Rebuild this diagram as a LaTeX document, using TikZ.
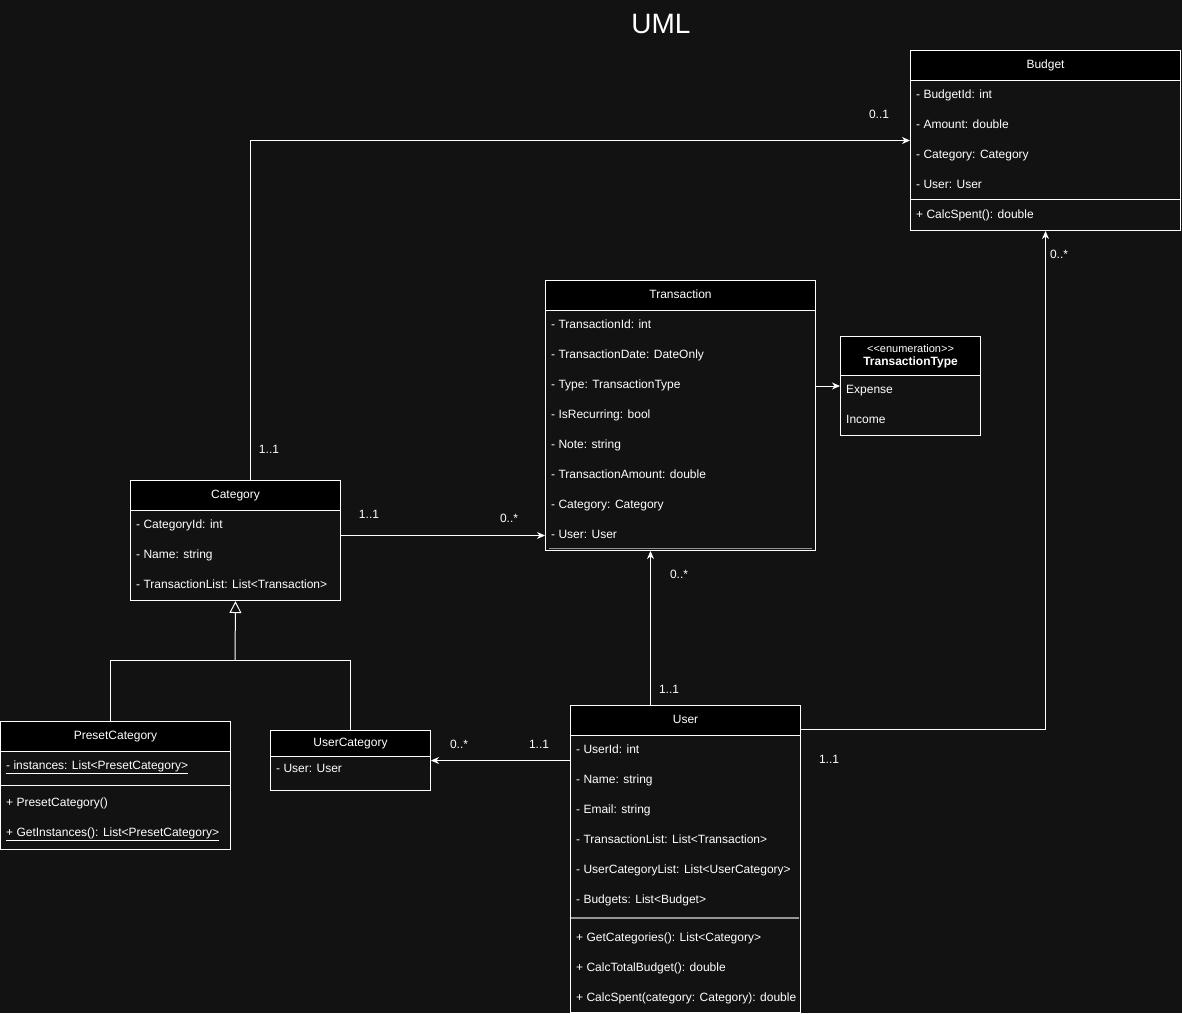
\documentclass[tikz,border=0pt]{standalone}
\usepackage{fontspec}
\setmainfont{Liberation Sans}
\usetikzlibrary{arrows.meta}
\definecolor{bg}{RGB}{18,18,18}
\definecolor{sepgray}{RGB}{150,150,150}
\begin{document}
\begin{tikzpicture}[x=1pt,y=-1pt,
  every node/.style={text=white,font=\fontsize{12}{14}\selectfont},
  box/.style={draw=white,line width=1pt,fill=bg,anchor=north west,inner sep=0pt},
  hdr/.style={draw=white,line width=1pt,fill=black,anchor=north west,inner sep=0pt},
  attr/.style={anchor=west,inner sep=0pt,text height=8.6pt,text depth=2.6pt},
  mult/.style={inner sep=0pt,text height=8.6pt,text depth=2.6pt},
  sep/.style={draw=white,line width=1pt},
  conn/.style={draw=white,line width=1pt,-{Stealth[length=8pt,width=7pt,inset=2.5pt]}},
  plain/.style={draw=white,line width=1pt},
  gen/.style={draw=white,line width=1pt,-{Triangle[open,length=12pt,width=12pt,fill=bg]}}
]
\fill[bg] (0,0) rectangle (1182,1013);
\useasboundingbox (0,0) rectangle (1182,1013);

\node[font=\fontsize{28}{32}\selectfont] (title) at (661,24) {UML};

% Budget
\node[box,minimum width=270pt,minimum height=180pt] (budget) at (910,50) {};
\node[hdr,minimum width=270pt,minimum height=30pt,text height=8.6pt,text depth=2.6pt] (budgeth) at (910,50) {Budget};
\node[attr] (b1) at (916,95) {- BudgetId: int};
\node[attr] (b2) at (916,125) {- Amount: double};
\node[attr] (b3) at (916,155) {- Category: Category};
\node[attr] (b4) at (916,185) {- User: User};
\draw[sep] (910,199) -- (1180,199);
\node[attr] (b5) at (916,215) {+ CalcSpent(): double};

% Transaction
\node[box,minimum width=270pt,minimum height=270pt] (transaction) at (545,280) {};
\node[hdr,minimum width=270pt,minimum height=30pt,text height=8.6pt,text depth=2.6pt] (transactionh) at (545,280) {Transaction};
\node[attr] (t1) at (551,325) {- TransactionId: int};
\node[attr] (t2) at (551,355) {- TransactionDate: DateOnly};
\node[attr] (t3) at (551,385) {- Type: TransactionType};
\node[attr] (t4) at (551,415) {- IsRecurring: bool};
\node[attr] (t5) at (551,445) {- Note: string};
\node[attr] (t6) at (551,475) {- TransactionAmount: double};
\node[attr] (t7) at (551,505) {- Category: Category};
\node[attr] (t8) at (551,535) {- User: User};
\draw[sepgray,line width=1pt] (549,548) -- (812,548);

% TransactionType
\node[box,minimum width=140pt,minimum height=99pt] (ttype) at (840,336) {};
\node[hdr,minimum width=140pt,minimum height=39pt,align=center] (ttypeh) at (840,336)
  {\fontsize{11}{13}\selectfont <{}<enumeration>{}>\\[-1pt]\textbf{TransactionType}};
\node[attr] (e1) at (846,390) {Expense};
\node[attr] (e2) at (846,420) {Income};

% Category
\node[box,minimum width=210pt,minimum height=120pt] (category) at (130,480) {};
\node[hdr,minimum width=210pt,minimum height=30pt,text height=8.6pt,text depth=2.6pt] (categoryh) at (130,480) {Category};
\node[attr] (c1) at (136,525) {- CategoryId: int};
\node[attr] (c2) at (136,555) {- Name: string};
\node[attr] (c3) at (136,585) {- TransactionList: List<Transaction>};

% PresetCategory
\node[box,minimum width=230pt,minimum height=128pt] (preset) at (0,721) {};
\node[hdr,minimum width=230pt,minimum height=30pt,text height=8.6pt,text depth=2.6pt] (preseth) at (0,721) {PresetCategory};
\node[attr] (p1) at (6,766) {\underline{- instances: List<PresetCategory>}};
\draw[sep] (0,785) -- (230,785);
\node[attr] (p2) at (6,803) {+ PresetCategory()};
\node[attr] (p3) at (6,833) {\underline{+ GetInstances(): List<PresetCategory>}};

% UserCategory
\node[box,minimum width=160pt,minimum height=60pt] (ucat) at (270,730) {};
\node[hdr,minimum width=160pt,minimum height=26pt,text height=8.6pt,text depth=2.6pt] (ucath) at (270,730) {UserCategory};
\node[attr] (u0) at (276,769) {- User: User};

% User
\node[box,minimum width=230pt,minimum height=307pt] (user) at (570,705) {};
\node[hdr,minimum width=230pt,minimum height=30pt,text height=8.6pt,text depth=2.6pt] (userh) at (570,705) {User};
\node[attr] (us1) at (576,750) {- UserId: int};
\node[attr] (us2) at (576,780) {- Name: string};
\node[attr] (us3) at (576,810) {- Email: string};
\node[attr] (us4) at (576,840) {- TransactionList: List<Transaction>};
\node[attr] (us5) at (576,870) {- UserCategoryList: List<UserCategory>};
\node[attr] (us6) at (576,900) {- Budgets: List<Budget>};
\draw[sepgray,line width=1.5pt] (571,918) -- (799,918);
\node[attr] (us7) at (576,938) {+ GetCategories(): List<Category>};
\node[attr] (us8) at (576,968) {+ CalcTotalBudget(): double};
\node[attr] (us9) at (576,998) {+ CalcSpent(category: Category): double};

% Connectors
\draw[conn] ([xshift=15pt]category.north) |- (budget.west);
\node[mult] (m1) at (269,450) {1..1};
\node[mult] (m2) at (879,115) {0..1};

\draw[conn] ([yshift=5pt]category.east) -- ([yshift=5pt]category.east -| transaction.west);
\node[mult] (m3) at (369,515) {1..1};
\node[mult] (m4) at (509,519) {0..*};

\draw[conn] (transaction.east |- ttype.west) -- (ttype.west);

\draw[conn] ([xshift=-35pt]user.north) -- ([xshift=-35pt]user.north |- transaction.south);
\node[mult] (m5) at (679,575) {0..*};
\node[mult] (m6) at (669,690) {1..1};

\draw[conn] (user.west |- ucat.east) -- (ucat.east);
\node[mult] (m7) at (459,745) {0..*};
\node[mult] (m8) at (539,745) {1..1};

\draw[conn] ([yshift=-24pt]user.north east) -| (budget.south);
\node[mult] (m9) at (1059,255) {0..*};
\node[mult] (m10) at (829,760) {1..1};

% Generalization
\coordinate (gj) at (235,660);
\draw[plain] ([xshift=-5pt]preset.north) |- (gj) -| (ucat.north);
\draw[gen] (gj) -- (category.south);
\end{tikzpicture}
\end{document}
